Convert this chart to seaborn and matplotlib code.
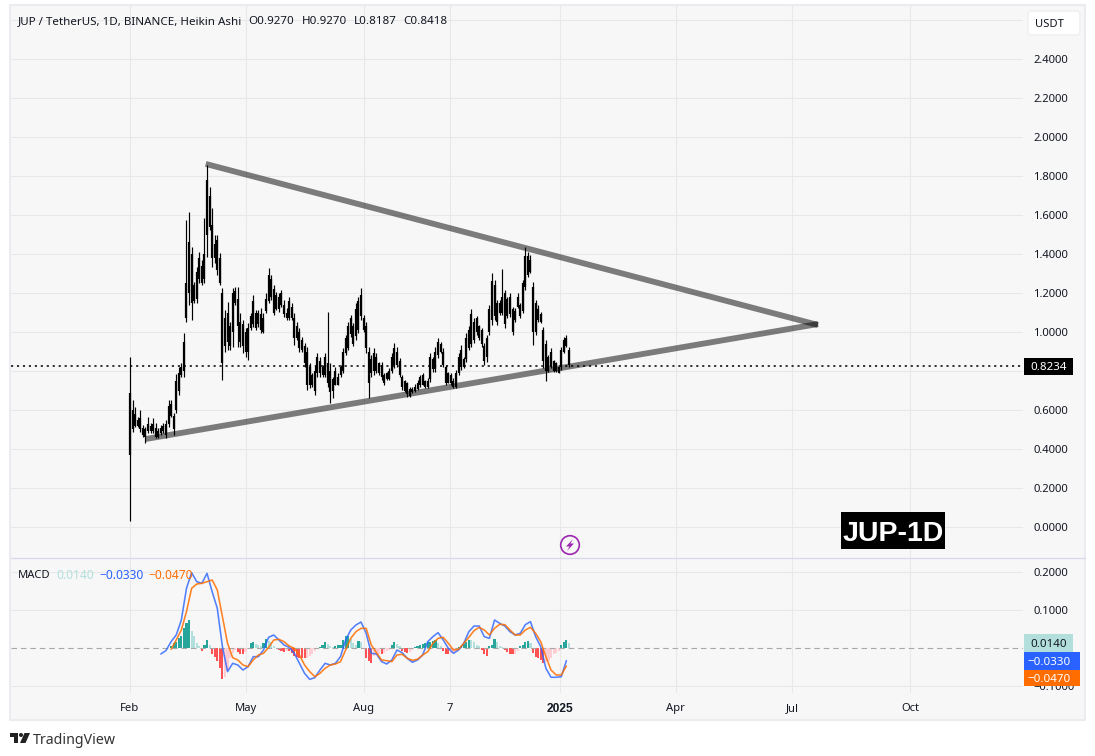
import numpy as np
import pandas as pd
import matplotlib as mpl
import matplotlib.pyplot as plt
import matplotlib.dates as mdates
from matplotlib.patches import Rectangle, FancyBboxPatch, Circle, Polygon
import seaborn as sns

# Candles, one every two days from 2024-02-01
highs = [0.873,0.651,0.617,0.565,0.600,0.523,0.514,0.565,0.531,0.557,0.531,0.506,0.523,0.531,0.548,0.651,0.651,0.583,0.784,0.822,
         0.839,0.993,1.574,1.617,1.437,1.258,1.335,1.412,1.369,1.583,1.856,1.745,1.634,1.497,1.497,1.403,1.224,1.112,1.155,1.053,
         1.224,1.232,1.232,1.095,1.061,1.018,1.044,1.095,1.189,1.112,1.112,1.121,1.095,1.198,1.326,1.292,1.241,1.206,1.198,1.215,
         1.164,1.121,1.181,1.147,1.095,1.053,1.018,0.976,0.942,0.924,0.839,0.788,0.830,0.890,0.873,0.830,0.890,1.104,0.839,0.771,
         0.822,0.788,0.830,0.916,0.984,1.053,1.087,1.044,1.147,1.181,1.224,1.087,1.053,0.925,0.882,0.916,0.891,0.848,0.848,0.788,
         0.797,0.814,0.891,0.945,0.925,0.865,0.780,0.754,0.745,0.720,0.720,0.735,0.754,0.780,0.788,0.754,0.762,0.891,0.874,0.925,
         0.968,0.950,0.916,0.831,0.797,0.788,0.762,0.805,0.891,0.933,0.874,0.993,1.031,1.116,1.070,1.082,1.036,1.019,0.942,0.985,
         1.138,1.301,1.267,1.164,1.164,1.321,1.215,1.181,1.198,1.130,1.121,1.198,1.150,1.267,1.438,1.412,1.395,1.258,1.164,1.138,
         1.104,1.027,0.959,0.882,0.916,0.856,0.848,0.822,0.925,0.973,0.985,0.925]
lows = [0.032,0.489,0.514,0.514,0.489,0.463,0.432,0.480,0.480,0.480,0.454,0.454,0.471,0.480,0.454,0.514,0.565,0.471,0.583,0.677,
        0.771,0.771,1.053,1.138,1.061,1.147,1.147,1.249,1.241,1.249,1.386,1.523,1.335,1.352,1.292,1.241,0.754,0.899,0.907,0.907,
        0.924,1.138,0.924,0.924,0.890,0.873,0.856,1.010,1.027,1.010,1.027,0.993,0.993,1.095,1.147,1.164,1.087,1.112,1.104,1.130,
        1.078,1.061,1.061,1.061,0.933,0.959,0.899,0.899,0.822,0.702,0.711,0.719,0.677,0.771,0.771,0.771,0.771,0.719,0.634,0.659,
        0.728,0.728,0.771,0.788,0.882,0.907,0.976,0.928,0.959,0.993,1.062,1.002,0.891,0.660,0.771,0.780,0.788,0.780,0.754,0.728,
        0.754,0.754,0.788,0.814,0.822,0.771,0.703,0.694,0.668,0.665,0.686,0.690,0.703,0.720,0.728,0.711,0.711,0.745,0.797,0.797,
        0.865,0.891,0.822,0.728,0.737,0.728,0.711,0.711,0.780,0.805,0.814,0.848,0.908,0.925,0.942,0.985,0.959,0.925,0.831,0.848,
        0.985,1.036,1.062,1.036,1.087,1.087,1.019,1.070,1.079,0.985,1.053,1.121,1.070,1.096,1.215,1.284,1.301,0.933,0.985,1.053,
        1.044,0.814,0.750,0.797,0.814,0.797,0.797,0.788,0.805,0.891,0.925,0.822]
body_top = [.685,.60,.58,.55,.56,.51,.50,.53,.52,.53,.51,.49,.51,.52,.53,.62,.63,.57,.75,.79,
            .82,.95,1.25,1.46,1.40,1.24,1.31,1.38,1.34,1.40,1.78,1.70,1.55,1.45,1.47,1.38,1.20,1.07,1.10,1.03,
            1.20,1.21,1.17,1.05,1.04,1.00,1.02,1.08,1.16,1.10,1.10,1.09,1.07,1.17,1.29,1.27,1.22,1.19,1.18,1.20,
            1.14,1.10,1.16,1.13,1.07,1.03,1.00,.96,.93,.90,.82,.78,.80,.87,.85,.82,.87,.84,.80,.76,
            .80,.77,.82,.90,.97,1.03,1.07,1.03,1.12,1.16,1.19,1.07,1.03,.90,.86,.89,.87,.84,.83,.78,
            .79,.80,.87,.92,.90,.85,.77,.75,.74,.71,.71,.72,.74,.77,.78,.75,.75,.87,.86,.90,
            .95,.94,.90,.82,.79,.78,.75,.79,.87,.91,.86,.97,1.01,1.09,1.05,1.07,1.03,1.01,.93,.97,
            1.12,1.26,1.24,1.15,1.15,1.18,1.20,1.17,1.18,1.12,1.11,1.18,1.14,1.25,1.39,1.39,1.37,1.23,1.15,1.12,
            1.09,1.01,.94,.87,.90,.85,.84,.82,.91,.96,.97,.91]
body_bot = [.369,.50,.52,.52,.50,.47,.46,.49,.49,.49,.46,.46,.48,.49,.47,.53,.57,.50,.60,.70,
            .78,.80,1.07,1.20,1.15,1.16,1.17,1.27,1.25,1.27,1.50,1.54,1.38,1.38,1.32,1.25,.84,.93,.95,.93,
            1.00,1.15,1.03,.95,.93,.90,.90,1.02,1.04,1.02,1.04,1.01,1.00,1.11,1.16,1.18,1.10,1.12,1.12,1.14,
            1.09,1.07,1.07,1.07,.97,.97,.92,.91,.84,.73,.73,.73,.70,.79,.79,.78,.78,.74,.69,.70,
            .73,.73,.78,.80,.89,.92,.99,.94,.98,1.01,1.08,1.01,.92,.74,.79,.80,.80,.79,.77,.74,
            .76,.76,.80,.83,.83,.78,.72,.70,.68,.67,.69,.70,.71,.73,.73,.72,.72,.76,.81,.81,
            .88,.90,.83,.74,.74,.74,.72,.72,.79,.82,.82,.86,.92,.94,.96,1.00,.97,.94,.85,.87,
            1.00,1.06,1.08,1.05,1.10,1.10,1.04,1.08,1.09,1.00,1.06,1.13,1.08,1.11,1.23,1.29,1.31,1.00,1.00,1.06,
            1.05,.85,.80,.80,.82,.80,.80,.79,.82,.90,.93,.83]

# MACD line, every four days from 2024-02-25
macd_line = [-.0157,-.0069,.0166,.0341,.0733,.1562,.1972,.1737,.1693,.1955,.1475,.1039,.0035,-.0619,-.0401,-.0445,-.0576,-.0488,-.0227,-.0227,
             -.0052,.0280,.0341,.0210,.0079,.0018,-.0139,-.0401,-.0663,-.0820,-.0776,-.0576,-.0401,-.0445,-.0401,-.0227,.0210,.0472,.0602,
             .0681,.0384,-.0139,-.0157,-.0357,-.0418,-.0314,-.0052,-.0122,-.0270,-.0375,-.0314,-.0183,.0166,.0297,.0402,.0210,-.0008,-.0139,-.0052,
             .0123,.0428,.0576,.0576,.0297,.0253,.0733,.0646,.0576,.0428,.0341,.0384,.0611,.0690,.0297,.0035,-.0532,-.0767,-.0767,-.0750,-.0330]
# signal line, every four days from 2024-03-04
signal_line = [-.0035,.0210,.0472,.0951,.1562,.1676,.1693,.1737,.1780,.1519,.0821,.0122,-.0253,-.0314,-.0445,-.0488,-.0314,-.0183,-.0139,.0018,
               .0210,.0227,.0166,.0053,-.0008,-.0183,-.0445,-.0619,-.0750,-.0663,-.0532,-.0445,-.0419,-.0358,-.0052,.0253,.0428,
               .0515,.0515,.0079,-.0122,-.0314,-.0331,-.0357,-.0183,-.0165,-.0270,-.0322,-.0296,-.0183,-.0096,.0123,.0253,.0280,.0123,-.0052,-.0035,
               .0123,.0280,.0454,.0541,.0472,.0341,.0515,.0620,.0611,.0472,.0341,.0341,.0472,.0541,.0384,.0166,-.0226,-.0576,-.0706,-.0706,-.0470]
# histogram, every two days from 2024-03-04
hist_vals = [.004,.013,.016,.026,.031,.052,.065,.072,.044,.031,.013,.004,-.007,.009,.022,.007,-.017,-.024,-.035,-.052,-.080,-.077,-.061,-.026,-.013,-.004,
             -.010,-.016,-.017,-.010,-.003,.013,.016,.010,.009,.004,.013,.024,.019,.017,.004,0,-.004,-.009,-.010,-.007,-.009,-.013,-.022,-.024,-.025,-.026,
             -.027,-.025,-.022,-.016,-.007,0,.003,.009,.016,.010,.006,.003,.005,.007,.009,.022,.031,.032,.024,.013,.009,
             .019,.017,-.003,-.026,-.035,-.038,-.022,-.019,-.016,-.017,-.013,-.009,-.004,.007,.016,.010,.004,-.009,-.011,-.012,-.010,-.004,.002,.004,.007,
             .010,.013,.016,.017,.019,.020,.013,.004,-.007,-.016,-.017,-.013,-.012,-.007,.002,.004,.010,.016,.022,.021,.016,.009,.004,-.004,-.017,-.022,
             .004,.009,.024,.017,.004,.002,-.004,-.010,-.016,-.017,-.016,-.007,.004,.009,.016,.019,.013,-.013,-.024,-.026,-.031,-.039,-.037,-.035,-.026,
             -.017,-.013,-.007,.007,.017,.022,.014]

price_ticks = [0,.2,.4,.6,.8,1.0,1.2,1.4,1.6,1.8,2.0,2.2,2.4,2.6]
price_labels = ["0.0000","0.2000","0.4000","0.6000","","1.0000","1.2000","1.4000","1.6000","1.8000","2.0000","2.2000","2.4000",""]
macd_ticks = [.2,.1,-.1]
x_ticks = ["2024-02-01","2024-05-01","2024-08-01","2024-10-07","2025-01-01","2025-04-01","2025-07-01","2025-10-01"]
x_labels = ["Feb","May","Aug","7","2025","Apr","Jul","Oct"]

upper_dates = ["2024-03-31","2025-07-21"]
upper_vals = [1.862,1.036]
lower_dates = ["2024-02-13","2025-07-21"]
lower_vals = [0.451,1.041]
last_price = 0.8234

W, H = 1095, 756
TEXT = "#131722"

sns.set_theme(style="white")
plt.rcParams['font.family'] = ['Noto Sans', 'DejaVu Sans']
plt.rcParams['axes.unicode_minus'] = True

def ax_rect(x0, y0, x1, y1):
    return [x0 / W, 1 - y1 / H, (x1 - x0) / W, (y1 - y0) / H]

candle_dates = pd.date_range("2024-02-01", periods=len(highs), freq="2D")
macd_df = pd.DataFrame({"date": pd.date_range("2024-02-25", periods=len(macd_line), freq="4D"), "val": macd_line})
sig_df = pd.DataFrame({"date": pd.date_range("2024-03-04", periods=len(signal_line), freq="4D"), "val": signal_line})
hist_df = pd.DataFrame({"date": pd.date_range("2024-03-04", periods=len(hist_vals), freq="2D"), "val": hist_vals})

fig = plt.figure(figsize=(W / 100, H / 100), dpi=100, facecolor="white")

# frame behind everything
back = fig.add_axes([0, 0, 1, 1], zorder=0)
back.set_xlim(0, W); back.set_ylim(H, 0); back.axis("off")
back.add_patch(Rectangle((10, 5), 1075, 715, facecolor="#f7f7f7", edgecolor="#ebebf0", lw=1.5))

ax = fig.add_axes(ax_rect(11, 5, 1023, 558), zorder=1)
ax2 = fig.add_axes(ax_rect(11, 559, 1023, 693), zorder=1, sharex=ax)
for a in (ax, ax2):
    a.patch.set_alpha(0)
    sns.despine(ax=a, left=True, bottom=True, right=True, top=True)
    a.yaxis.tick_right()
    a.grid(True, color="#e8e8ea", lw=0.8)
    a.set_axisbelow(True)
    a.tick_params(axis="y", length=0, pad=7.5, labelsize=8.1, labelcolor=TEXT)
    a.set_xlabel(""); a.set_ylabel("")

ax.vlines(candle_dates, lows, highs, color="#000000", lw=0.85)
ax.vlines(candle_dates, body_bot, body_top, color="#000000", lw=1.6)
ax.axhline(last_price, color="black", lw=1.1, ls=(0, (1.4, 2.5)), zorder=3)
ax.plot(pd.to_datetime(upper_dates), upper_vals, color="black", alpha=.5, lw=4.2, solid_capstyle="butt", zorder=4)
ax.plot(pd.to_datetime(lower_dates), lower_vals, color="black", alpha=.5, lw=4.2, solid_capstyle="butt", zorder=4)
ax.set_ylim(-0.159, 2.677)
ax.set_yticks(price_ticks, price_labels)
ax.tick_params(axis="x", length=0, labelbottom=False)

# histogram colours follow the direction of the bars
prev = hist_df["val"].shift(1).fillna(0)
hist_colors = np.select(
    [(hist_df["val"] >= 0) & (hist_df["val"] >= prev), hist_df["val"] >= 0, hist_df["val"] < prev],
    ["#26a69a", "#b2dfdb", "#ff5252"], "#ffcdd2")
ax2.bar(hist_df["date"], hist_df["val"], width=1.65, color=hist_colors, lw=0, zorder=2)
ax2.axhline(0, color="#a8a8a8", lw=0.8, ls=(0, (5, 3.5)), zorder=2.5)
sns.lineplot(data=macd_df, x="date", y="val", ax=ax2, color="#2962ff", lw=1.15, alpha=.8, estimator=None, zorder=3)
sns.lineplot(data=sig_df, x="date", y="val", ax=ax2, color="#ff6d00", lw=1.15, alpha=.85, estimator=None, zorder=4)
ax2.set_ylim(-0.1178, 0.233)
ax2.set_yticks(macd_ticks, ["0.2000", "0.1000", "\u22120.1000"])
ax2.set_xlabel(""); ax2.set_ylabel("")

ticks = pd.to_datetime(x_ticks)
ax2.set_xticks(ticks, x_labels)
ax2.tick_params(axis="x", length=0, pad=7, labelsize=8.1, labelcolor=TEXT)
lab_2025 = ax2.get_xticklabels()[4]
lab_2025.set_family("Liberation Sans")
lab_2025.set_fontweight("bold")
lab_2025.set_fontsize(8.6)
t0 = mdates.date2num(pd.Timestamp("2024-02-01"))
ax2.set_xlim(t0 + (11 - 130) / 1.2836, t0 + (1023 - 130) / 1.2836)

# everything drawn in pixels of the picture
ov = fig.add_axes([0, 0, 1, 1], zorder=5)
ov.set_xlim(0, W); ov.set_ylim(H, 0); ov.axis("off"); ov.patch.set_alpha(0)

def label(x, y, s, color=TEXT, size=8.1, ha="left", **kw):
    ov.text(x, y, s, color=color, fontsize=size, ha=ha, va="center_baseline", **kw)

ov.plot([11, 1085], [558, 558], color="#d8d8ec", lw=0.9)

label(18, 20, "JUP / TetherUS, 1D, BINANCE, Heikin Ashi", size=8.35)
label(248, 20, "O0.9270", size=8.35)
label(302, 20, "H0.9270", size=8.35)
label(354, 20, "L0.8187", size=8.35)
label(403, 20, "C0.8418", size=8.35)

label(18, 574, "MACD")
label(56, 574, "0.0140", color="#b2dfdb", size=8.6)
label(99, 574, "\u22120.0330", color="#2962ff", size=8.6)
label(148, 574, "\u22120.0470", color="#ff6d00", size=8.6)

# price scale button and value tags
ov.add_patch(FancyBboxPatch((1028, 11), 52, 24, boxstyle="round,pad=0,rounding_size=4", fc="white", ec="#f0f0f3", lw=1.2, mutation_aspect=1, zorder=6))
label(1049.5, 23, "USDT", ha="center", zorder=7)

def tag(y0, y1, x1, color, s, tcolor):
    ov.add_patch(Rectangle((1024, y0), x1 - 1024, y1 - y0, fc=color, ec="none", zorder=6))
    label(1049, (y0 + y1) / 2, s, color=tcolor, size=8.3, ha="center", zorder=7)

tag(358, 375, 1073, "black", "0.8234", "white")
tag(634, 652, 1073, "#b2dfdb", "0.0140", TEXT)
tag(652, 669.5, 1080, "#2962ff", "\u22120.0330", "white")
tag(669.5, 686, 1080, "#ff6d00", "\u22120.0470", "white")

# watermark
ov.add_patch(Rectangle((841, 512), 104, 37, fc="black", ec="none", zorder=6))
label(893, 531, "JUP-1D", color="white", size=20.5, ha="center", fontweight="bold", family="Liberation Sans", zorder=7)

# lightning marker
ov.add_patch(Circle((570, 545), 9.3, fc="none", ec="#9c27b0", lw=1.2))
ov.add_patch(Polygon([(573, 539), (566, 546.5), (569.5, 546.5), (567, 551), (574, 543.5), (570.5, 543.5)], fc="#9c27b0", ec="none"))

# TradingView logo
ov.add_patch(Polygon([(10, 733), (18, 733), (18, 743), (14, 743), (14, 737), (10, 737)], fc="#222222", ec="none"))
ov.add_patch(Circle((21, 735), 2, fc="#222222", ec="none"))
ov.add_patch(Polygon([(24.5, 733), (30, 733), (25.5, 743), (20, 743)], fc="#222222", ec="none"))
label(33, 738, "TradingView", color="#333333", size=10.2)

fig.savefig("out.png", dpi=100)
